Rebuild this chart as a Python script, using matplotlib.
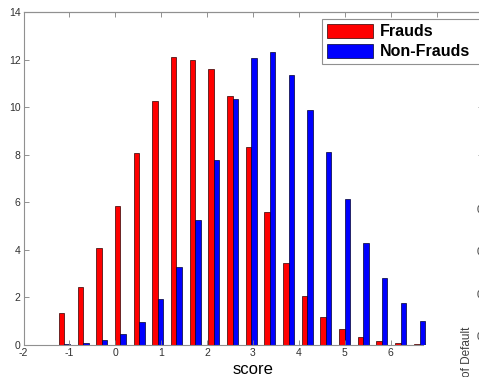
import numpy as np
import matplotlib.pyplot as plt
from matplotlib.patches import Patch

plt.rcParams['font.family'] = ['Liberation Sans', 'DejaVu Sans']
plt.rcParams['axes.unicode_minus'] = False

# bin centres of the score histogram
score_bins = [-1.11, -0.70, -0.29, 0.11, 0.52, 0.93, 1.33, 1.74, 2.15, 2.56,
              2.96, 3.37, 3.78, 4.18, 4.59, 5.00, 5.40, 5.81, 6.22, 6.63]
frauds = [1.34, 2.44, 4.06, 5.85, 8.07, 10.25, 12.1, 12.0, 11.6, 10.46,
          8.33, 5.6, 3.43, 2.05, 1.17, 0.67, 0.34, 0.17, 0.08, 0.05]
non_frauds = [0.05, 0.1, 0.22, 0.47, 0.97, 1.93, 3.27, 5.25, 7.77, 10.33,
              12.06, 12.3, 11.34, 9.9, 8.1, 6.12, 4.3, 2.8, 1.77, 1.02]
labels = ['Frauds', 'Non-Frauds']
xticks_bottom = [-2, -1, 0, 1, 2, 3, 4, 5, 6]
yticks = [0, 2, 4, 6, 8, 10, 12, 14]

W, H = 479, 377
fig = plt.figure(figsize=(W / 100, H / 100), dpi=100)
ax = fig.add_axes([23.5 / W, 1 - 345 / H, 459 / W, 333 / H])

x = np.array(score_bins)
bw = 0.12
ax.bar(x - bw / 2, frauds, width=bw, color='#ff0000', edgecolor='#300000', linewidth=0.5)
ax.bar(x + bw / 2, non_frauds, width=bw, color='#0000ff', edgecolor='#000030', linewidth=0.5)

ax.set_xlim(-2, 8)
ax.set_ylim(0, 14)
ax.set_xticks(xticks_bottom)
ax.set_yticks(yticks)
ax.tick_params(direction='in', length=3.5, width=0.6, color='#808080',
               labelsize=7.5, labelcolor='#303030', top=False, right=False, pad=2)
for s in ['left', 'bottom', 'top']:
    ax.spines[s].set_color('#909090')
    ax.spines[s].set_linewidth(0.8)
ax.spines['right'].set_visible(False)
ax.spines['bottom'].set_bounds(-2, 6.70)

top = ax.secondary_xaxis('top')
top.set_xticks(range(-2, 9))
top.tick_params(direction='in', length=3.5, width=0.6, color='#808080', labeltop=False)
top.spines['top'].set_color('#909090')
top.spines['top'].set_linewidth(0.8)

right = ax.secondary_yaxis('right')
right.set_yticks([8, 10, 12, 14])
right.tick_params(direction='in', length=3.5, width=0.6, color='#808080', labelright=False)
right.spines['right'].set_visible(False)

ax.set_xlabel('score', fontsize=12, labelpad=3)

handles = [Patch(facecolor='#ff0000', edgecolor='#300000', linewidth=0.5),
           Patch(facecolor='#0000ff', edgecolor='#000030', linewidth=0.5)]
leg = ax.legend(handles, labels, loc='upper left',
                bbox_to_anchor=(322 / W, 1 - 64 / H, 170 / W, 45 / H), mode='expand',
                bbox_transform=fig.transFigure, borderaxespad=0, fancybox=False,
                framealpha=1, edgecolor='#909090', handlelength=2.9, handleheight=0.95,
                handletextpad=0.4, labelspacing=0.3, borderpad=0.3,
                prop={'size': 11.5, 'weight': 'bold'})
leg.get_frame().set_linewidth(0.8)

# fragments of a neighbouring chart at the right edge
fig.text(467 / W, 1 - 327 / H, 'of Default', rotation=90, ha='center', va='top',
         fontsize=8.5, color='#404040')
for yy in [210, 252, 295, 337]:
    fig.text(476.5 / W, 1 - yy / H, '0', ha='left', va='center', fontsize=8, color='#404040')

fig.savefig('out.png', dpi=100)
